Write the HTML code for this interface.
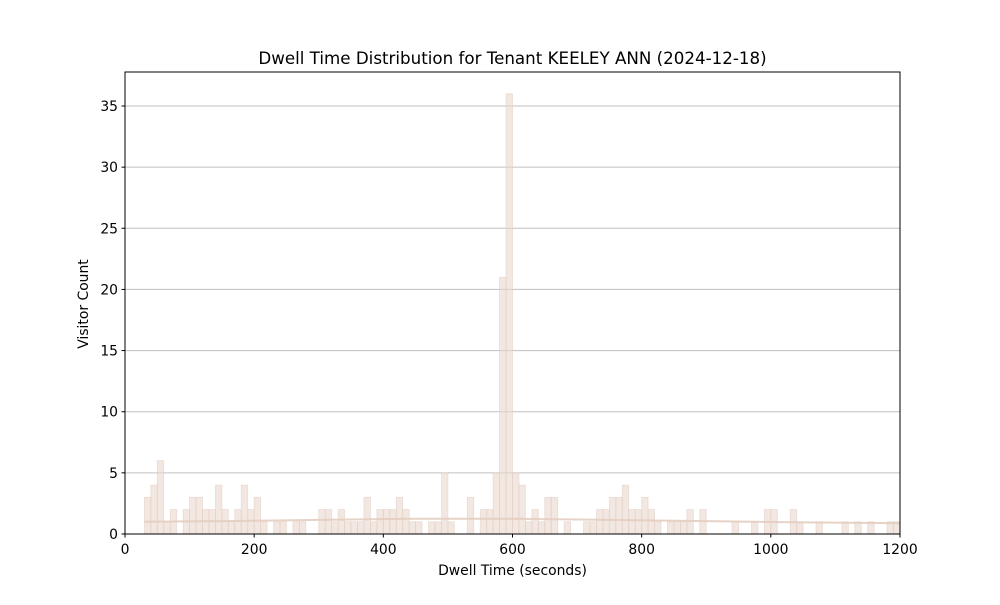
<!DOCTYPE html>
<html><head><meta charset="utf-8"><style>
body{margin:0;background:#fff;font-family:"Liberation Sans",sans-serif}
svg text{font-family:"DejaVu Sans","Liberation Sans",sans-serif;fill:#000}
</style></head><body>
<svg id="chart" width="1000" height="600" xmlns="http://www.w3.org/2000/svg">
<rect width="1000" height="600" fill="#fff"/>
<text x="512.5" y="64" font-size="16.7" text-anchor="middle">Dwell Time Distribution for Tenant KEELEY ANN (2024-12-18)</text>
<g id="grid"></g><g id="bars"></g><g id="kde"></g>
<rect x="125" y="72" width="775" height="462" fill="none" stroke="#000" stroke-width="1"/>
<g id="axes"></g>
<text x="512.5" y="575" font-size="13.9" text-anchor="middle">Dwell Time (seconds)</text>
<text transform="translate(88,304) rotate(-90)" font-size="13.9" text-anchor="middle">Visitor Count</text>
</svg>
<script>
const binStarts = [];
for (let s = 30; s < 1200; s += 10) binStarts.push(s);
const counts = [3,4,6,1,2,0,2,3,3,2,2,4,2,1,2,4,2,3,1,0,1,1,0,1,1,0,0,2,2,1,2,1,1,1,3,1,2,2,2,3,2,1,1,0,1,1,5,1,0,0,3,0,2,2,5,21,36,5,4,1,2,1,3,3,0,1,0,0,1,1,2,2,3,3,4,2,2,3,2,1,0,1,1,1,2,0,2,0,0,0,0,1,0,0,1,0,2,2,0,0,2,1,0,0,1,0,0,0,1,0,1,0,1,0,0,1,1];
const kdeX = [30,150,300,450,600,750,900,1050,1200];
const kdeY = [1.0,1.05,1.15,1.25,1.25,1.15,1.05,0.95,0.88];
const xTicks = [0,200,400,600,800,1000,1200];
const yTicks = [0,5,10,15,20,25,30,35];
const NS = "http://www.w3.org/2000/svg";
const X = v => 125 + v * 775 / 1200;
const Y = v => 534 - v * (534 - 106) / 35;
function mk(t, a, p) { const e = document.createElementNS(NS, t); for (const k in a) e.setAttribute(k, a[k]); p.appendChild(e); return e; }
const grid = document.getElementById('grid'), bars = document.getElementById('bars'), kde = document.getElementById('kde'), axes = document.getElementById('axes');
yTicks.forEach(v => {
  if (v > 0) {
    const g = mk('line', {x1: 125, x2: 900, y1: Y(v), y2: Y(v), stroke: '#c0c0c0', 'stroke-width': 1}, grid);
    
    
  }
  const t = mk('line', {x1: 121.5, x2: 125, y1: Y(v), y2: Y(v), stroke: '#000'}, axes);
  
  
  const l = mk('text', {x: 118, y: Y(v) + 5, 'font-size': 13.9, 'text-anchor': 'end'}, axes);
  l.textContent = v;
  
  
});
xTicks.forEach(v => {
  const t = mk('line', {x1: X(v), x2: X(v), y1: 534, y2: 537.5, stroke: '#000'}, axes);
  
  
  const l = mk('text', {x: X(v), y: 554, 'font-size': 13.9, 'text-anchor': 'middle'}, axes);
  l.textContent = v;
  
  
});
binStarts.forEach((s, i) => {
  const c = counts[i];
  if (!c) return;
  const r = mk('rect', {x: X(s), y: Y(c), width: X(s + 10) - X(s), height: Y(0) - Y(c), fill: 'rgba(233,215,205,0.6)', stroke: 'rgba(225,205,195,0.6)', 'stroke-width': 0.8}, bars);
  
  
});
let d = '';
kdeX.forEach((x, i) => { d += (i ? 'L' : 'M') + X(x) + ',' + Y(kdeY[i]); });
const p = mk('path', {d: d, fill: 'none', stroke: 'rgba(228,205,192,0.9)', 'stroke-width': 2}, kde);


</script>
</body></html>
